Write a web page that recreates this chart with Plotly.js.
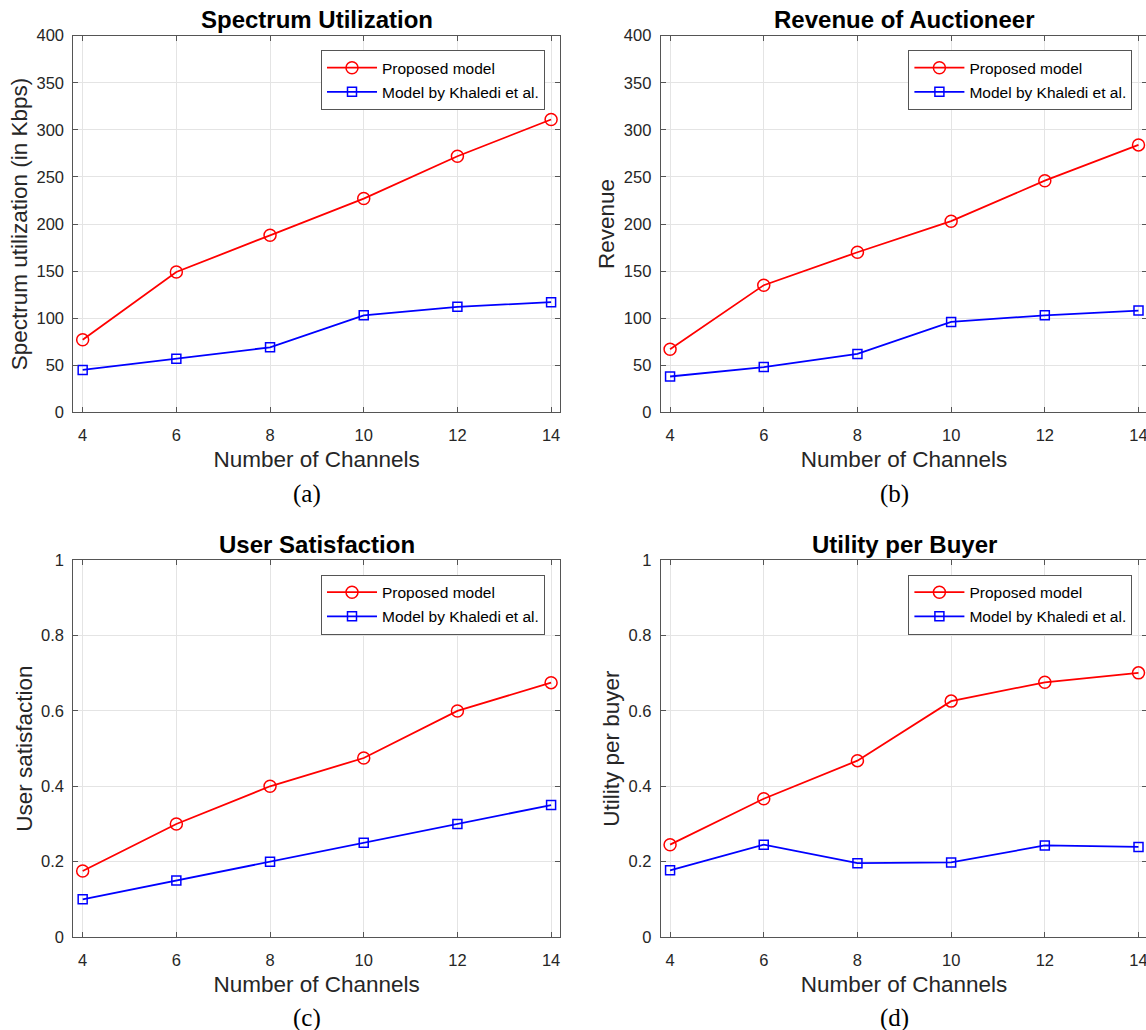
<!DOCTYPE html>
<html><head><meta charset="utf-8">
<script src="https://cdn.plot.ly/plotly-3.0.1.min.js"></script>
<style>html,body{margin:0;padding:0;overflow:hidden;background:#fff}</style>
</head><body><div id="chart" style="width:1148px;height:1030px"></div>
<script>
// ---- data ----
const channels = [4, 6, 8, 10, 12, 14];
const spectrumProposed = [77, 149, 188, 227, 272, 311];
const spectrumKhaledi  = [45, 57, 69, 103, 112, 117];
const revenueProposed  = [67, 135, 170, 203, 246, 284];
const revenueKhaledi   = [38, 48, 62, 96, 103, 108];
const satisfactionProposed = [0.175, 0.300, 0.400, 0.475, 0.600, 0.675];
const satisfactionKhaledi  = [0.100, 0.150, 0.200, 0.250, 0.300, 0.350];
const utilityProposed = [0.245, 0.367, 0.468, 0.626, 0.676, 0.701];
const utilityKhaledi  = [0.177, 0.245, 0.196, 0.198, 0.243, 0.239];
const seriesNames = ['Proposed model', 'Model by Khaledi et al.'];
const panelTitles = ['Spectrum Utilization', 'Revenue of Auctioneer', 'User Satisfaction', 'Utility per Buyer'];
const yTitles = ['Spectrum utilization (in Kbps)', 'Revenue', 'User satisfaction', 'Utility per buyer'];
const xTitle = 'Number of Channels';
const panelLabels = ['(a)', '(b)', '(c)', '(d)'];
const xTicks = [4, 6, 8, 10, 12, 14];
const yTicksTop = [0, 50, 100, 150, 200, 250, 300, 350, 400];
const yTicksBottom = [0, 0.2, 0.4, 0.6, 0.8, 1];

// ---- layout geometry ----
const W = 1148, H = 1030;
const colX = [[73.3, 560.0], [660.7, 1147.4]];
const rowY = [[35.7, 412.3], [560.2, 937.0]];
const FONT = '"Liberation Sans", Arial, Helvetica, sans-serif';
const TXT = '#262626';

const panels = [
  {p: spectrumProposed, k: spectrumKhaledi, col: 0, row: 0, yr: [0, 400], yt: yTicksTop},
  {p: revenueProposed, k: revenueKhaledi, col: 1, row: 0, yr: [0, 400], yt: yTicksTop},
  {p: satisfactionProposed, k: satisfactionKhaledi, col: 0, row: 1, yr: [0, 1], yt: yTicksBottom},
  {p: utilityProposed, k: utilityKhaledi, col: 1, row: 1, yr: [0, 1], yt: yTicksBottom}
];

const data = [];
const layout = {
  width: W, height: H,
  margin: {l: 0, r: 0, t: 0, b: 0},
  paper_bgcolor: '#fff', plot_bgcolor: '#fff',
  font: {family: FONT, color: TXT},
  showlegend: true,
  annotations: []
};

panels.forEach((pn, i) => {
  const n = i === 0 ? '' : String(i + 1);
  const xa = 'x' + n, ya = 'y' + n;
  const lg = 'legend' + n;
  data.push({
    x: channels, y: pn.p, xaxis: xa, yaxis: ya, legend: lg,
    name: seriesNames[0], mode: 'lines+markers', legendgroup: 'p' + i,
    line: {color: '#ff0000', width: 1.8},
    marker: {symbol: 'circle-open', size: 12, color: '#ff0000', line: {width: 1.5, color: '#ff0000'}}
  });
  data.push({
    x: channels, y: pn.k, xaxis: xa, yaxis: ya, legend: lg,
    name: seriesNames[1], mode: 'lines+markers', legendgroup: 'k' + i,
    line: {color: '#0000ff', width: 1.8},
    marker: {symbol: 'square-open', size: 9, color: '#0000ff', line: {width: 1.5, color: '#0000ff'}}
  });
  const cx = colX[pn.col], ry = rowY[pn.row];
  const common = {
    showline: true, linecolor: '#555', linewidth: 1, mirror: 'ticks',
    ticks: 'inside', ticklen: 5, tickwidth: 1, tickcolor: '#555',
    showgrid: true, gridcolor: '#e4e4e4', gridwidth: 1, zeroline: false,
    tickfont: {family: FONT, size: 16.5, color: TXT}, automargin: false, fixedrange: true
  };
  layout['xaxis' + n] = Object.assign({}, common, {
    domain: [cx[0] / W, cx[1] / W], anchor: ya, range: [3.8, 14.19],
    tickmode: 'array', tickvals: xTicks, ticklabelstandoff: 8,
    title: {text: xTitle, font: {family: FONT, size: 22.5, color: TXT}, standoff: 8}
  });
  layout['yaxis' + n] = Object.assign({}, common, {
    domain: [1 - ry[1] / H, 1 - ry[0] / H], anchor: xa, range: pn.yr,
    tickmode: 'array', tickvals: pn.yt, ticklabelstandoff: 5,
    title: {text: yTitles[i], font: {family: FONT, size: 22.5, color: TXT}, standoff: 2}
  });
  layout[lg] = {
    x: (cx[0] + 247.7) / W, y: 1 - (ry[0] + 14.4) / H, xanchor: 'left', yanchor: 'top',
    bgcolor: '#fff', bordercolor: '#555', borderwidth: 1,
    font: {family: FONT, size: 15.5, color: '#000'}, itemwidth: 50, tracegroupgap: 1
  };
  const midX = (cx[0] + cx[1]) / 2;
  layout.annotations.push({
    text: '<b>' + panelTitles[i] + '</b>', xref: 'paper', yref: 'paper',
    x: midX / W, y: 1 - (ry[0] - 15.7) / H, xanchor: 'center', yanchor: 'middle', showarrow: false,
    font: {family: FONT, size: 24, color: '#000'}
  });
  layout.annotations.push({
    text: panelLabels[i], xref: 'paper', yref: 'paper',
    x: (midX - 10) / W, y: 1 - (ry[0] + 458) / H, xanchor: 'center', yanchor: 'middle', showarrow: false,
    font: {family: '"Liberation Serif", "DejaVu Serif", serif', size: 25, color: '#000'}
  });
});

Plotly.newPlot('chart', data, layout, {displayModeBar: false, staticPlot: true});
</script>
</body></html>
